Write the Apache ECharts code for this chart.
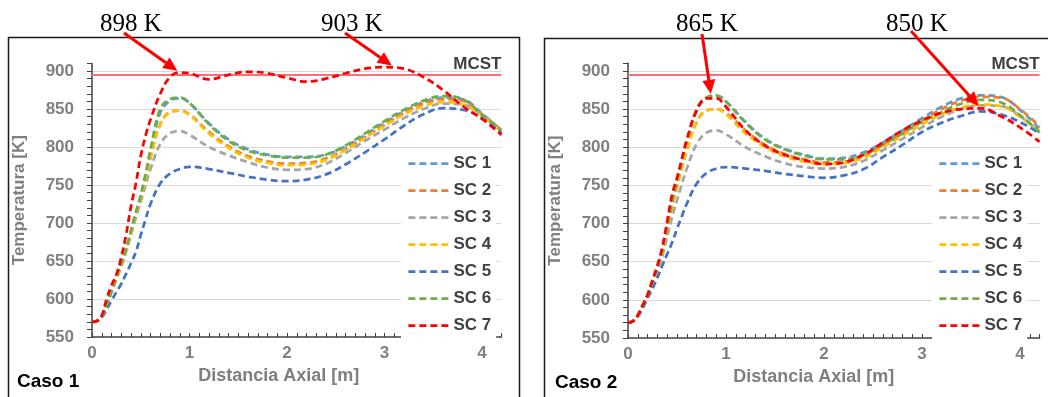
<!DOCTYPE html>
<html>
<head>
<meta charset="utf-8">
<script src="https://cdn.jsdelivr.net/npm/echarts@6/dist/echarts.min.js"></script>
<style>
html,body{margin:0;padding:0;background:#fff;}
#c{width:1048px;height:397px;}
</style>
</head>
<body>
<div id="c"></div>
<script>
// ---------- DATA ----------
const seriesNames = ['SC 1','SC 2','SC 3','SC 4','SC 5','SC 6','SC 7'];
const axialPos = [0,0.05,0.1,0.15,0.2,0.25,0.3,0.35,0.4,0.45,0.5,0.55,0.6,0.7,0.8,0.9,1.0,1.2,1.4,1.6,1.8,2.0,2.2,2.4,2.6,2.8,3.0,3.2,3.4,3.6,3.8,4.0,4.2];

// Caso 1
const c1_sc1 = [570,571,577,592,610,628,646,666,690,713,735,762,793,845,861,864,858,831,810,797,790,787,787,790,801,816,832,847,859,865,863,844,822];
const c1_sc2 = [570,571,577,592,610,627,645,664,688,711,733,759,786,830,846,848,843,820,801,788,781,778,779,785,797,813,829,845,857,863,861,843,822];
const c1_sc3 = [570,571,577,592,609,626,643,662,685,707,728,750,771,804,818,821,816,800,789,780,773,770,771,778,792,808,823,838,850,857,856,842,820];
const c1_sc4 = [570,571,577,592,610,627,645,664,688,711,733,759,786,830,846,848,842,818,799,786,779,776,777,783,796,812,828,843,854,859,856,841,820];
const c1_sc5 = [570,571,576,586,598,609,620,633,647,662,684,705,725,752,765,771,774,771,766,761,757,755,757,764,777,793,810,828,843,851,849,838,818];
const c1_sc6 = [570,571,577,592,610,628,646,666,690,714,737,765,797,850,863,865,858,830,808,795,789,786,786,790,802,818,834,849,861,867,863,843,822];
const c1_sc7 = [570,571,578,600,618,632,655,685,722,752,788,815,836,870,892,898,897,889,895,899,897,891,886,890,897,903,905,903,892,875,854,837,816];

// Caso 2
const c2_sc1 = [570,572,579,592,606,624,642,664,695,727,754,781,806,848,864,867,860,833,811,798,790,785,786,793,806,822,838,853,864,868,866,849,824];
const c2_sc2 = [570,572,579,592,606,623,641,662,692,722,748,773,796,833,848,850,845,822,803,791,784,780,781,789,803,819,835,850,861,866,865,850,827];
const c2_sc3 = [570,572,579,591,605,621,638,657,683,708,730,752,772,804,819,822,817,800,788,779,774,772,774,782,796,811,826,840,850,855,854,841,819];
const c2_sc4 = [570,572,579,592,606,623,641,662,692,722,748,773,796,833,848,850,843,818,800,788,781,778,779,786,800,815,830,843,852,856,854,840,821];
const c2_sc5 = [570,572,578,589,602,615,629,645,660,675,693,710,726,752,766,772,774,772,769,765,762,760,763,771,787,803,820,832,841,847,843,833,818];
const c2_sc6 = [570,572,579,592,606,624,642,664,695,728,755,782,808,850,865,868,860,832,810,797,789,784,784,790,803,818,833,846,857,862,859,842,820];
const c2_sc7 = [570,572,580,593,607,626,645,669,703,738,760,785,810,848,864,864,853,822,802,790,783,778,780,790,806,822,835,845,850,851,841,826,807];

const mcstValue = 895;
const mcstLabel = 'MCST';
const caseLabels = ['Caso 1','Caso 2'];
const yTicks = [550,600,650,700,750,800,850,900];
const xTicks = [0,1,2,3,4];

const annotLabels = ['898 K','903 K','865 K','850 K'];
const annotPoints = [[0.9,898],[3.1,905],[0.85,866],[3.6,851]];
const annotGrid = [0,0,1,1];

// ---------- STYLE / LAYOUT ----------
const colors = ['#5b9bd5','#ed7d31','#a5a5a5','#ffc000','#4472c4','#70ad47','#ff0000'];
const cases = [
  [c1_sc1,c1_sc2,c1_sc3,c1_sc4,c1_sc5,c1_sc6,c1_sc7],
  [c2_sc1,c2_sc2,c2_sc3,c2_sc4,c2_sc5,c2_sc6,c2_sc7]
];
const grids = [
  {left:92, top:63.4, width:409.5, height:273.6},
  {left:628, top:63.3, width:411.6, height:274.7}
];
const legendLeft = [401, 932];
const titlePad = [18, 20];
const annotText = [[100,24],[321,24],[676,24],[886,24]];
const annotTail = [[124,33],[345,33],[702,34],[911,31]];
const caseTextPos = [[17,382],[555,383]];
const frames = [[8.5,37.5,511,400],[544.5,38.5,520,400]];

const FONT = '"Liberation Sans", Arial, sans-serif';
const labelGray = '#7f7f7f';
const axisDark = '#404040';

const yMin = 550, yMax = 910, yStep = 10;
const splitColors = [];
for (let v = yMin; v <= yMax; v += yStep) {
  splitColors.push(yTicks.indexOf(v) > 0 ? '#d9d9d9' : 'rgba(0,0,0,0)');
}

const xAxes = [], yAxes = [], series = [], legends = [];
[0,1].forEach(c => {
  xAxes.push({
    type:'value', gridIndex:c, min:0, max:4.2, interval:0.1,
    name:'Distancia Axial [m]', nameLocation:'middle', nameGap:26,
    nameTextStyle:{fontFamily:FONT, fontWeight:'bold', fontSize:18, color:labelGray, padding:[0,titlePad[c]*2,0,0]},
    axisLine:{show:true, onZero:false, lineStyle:{color:axisDark, width:1.5}},
    axisTick:{show:true, inside:true, length:4, lineStyle:{color:axisDark, width:1}},
    axisLabel:{margin:8, fontFamily:FONT, fontWeight:'bold', fontSize:17, color:labelGray,
      formatter: v => { const r = Math.round(v); return (Math.abs(v-r) < 1e-6 && xTicks.indexOf(r) >= 0) ? String(r) : ''; }},
    splitLine:{show:false}
  });
  yAxes.push({
    type:'value', gridIndex:c, min:yMin, max:yMax, interval:yStep,
    name:'Temperatura [K]', nameLocation:'middle', nameGap:64, nameRotate:90,
    nameTextStyle:{fontFamily:FONT, fontWeight:'bold', fontSize:17, color:labelGray},
    axisLine:{show:true, lineStyle:{color:axisDark, width:1.5}},
    axisTick:{show:true, inside:false, length:5, lineStyle:{color:axisDark, width:1}},
    axisLabel:{margin:18, fontFamily:FONT, fontWeight:'bold', fontSize:17, color:labelGray,
      formatter: v => yTicks.indexOf(Math.round(v)) >= 0 && Math.abs(v-Math.round(v))<1e-6 ? String(Math.round(v)) : ''},
    splitLine:{show:true, lineStyle:{color:splitColors, width:1}}
  });
  cases[c].forEach((vals, i) => {
    const s = {
      type:'line', name:seriesNames[i], xAxisIndex:c, yAxisIndex:c,
      data: axialPos.map((x,k) => [x, vals[k]]),
      smooth:0.4, symbol:'none', showSymbol:false,
      lineStyle:{color:colors[i], width:2.75, type:[7,4]},
      itemStyle:{color:colors[i]},
      z: 3 + i
    };
    if (i === 0) {
      s.markLine = {
        silent:true, symbol:'none', animation:false,
        lineStyle:{color:'#ff6f78', width:2, type:'solid'},
        label:{show:true, position:'insideEndTop', formatter:mcstLabel, distance:[0,2],
          fontFamily:FONT, fontWeight:'bold', fontSize:17, color:axisDark},
        data:[{yAxis:mcstValue}]
      };
    }
    series.push(s);
  });
  legends.push({
    orient:'vertical', left:legendLeft[c], top:150, padding:[5,5,5,6],
    backgroundColor:'#ffffff', itemWidth:40, itemHeight:14, itemGap:10,
    selectedMode:false, data:seriesNames,
    itemStyle:{opacity:0},
    lineStyle:{width:2.75, type:[7,4], opacity:1},
    textStyle:{fontFamily:FONT, fontWeight:'bold', fontSize:17, color:axisDark, lineHeight:14}
  });
});

const chart = echarts.init(document.getElementById('c'), null, {renderer:'canvas'});
chart.setOption({
  animation:false,
  backgroundColor:'#ffffff',
  grid: grids,
  xAxis: xAxes,
  yAxis: yAxes,
  legend: legends,
  series: series
});

// ---------- annotations ----------
const graphics = [];
frames.forEach(f => graphics.push({type:'rect', z:0, shape:{x:f[0],y:f[1],width:f[2],height:f[3]},
  style:{fill:'none', stroke:'#1a1a1a', lineWidth:1.5}}));
caseLabels.forEach((t,i) => graphics.push({type:'text', z:10,
  style:{text:t, x:caseTextPos[i][0], y:caseTextPos[i][1], font:'bold 19px ' + FONT, fill:'#000', verticalAlign:'middle'}}));
annotLabels.forEach((t,i) => {
  graphics.push({type:'text', z:10, style:{text:t, x:annotText[i][0], y:annotText[i][1],
    font:'25px "Liberation Serif", "Times New Roman", serif', fill:'#000', verticalAlign:'middle'}});
  const p = chart.convertToPixel({gridIndex:annotGrid[i]}, annotPoints[i]);
  const tail = annotTail[i];
  let dx = p[0]-tail[0], dy = p[1]-tail[1];
  const len = Math.sqrt(dx*dx+dy*dy); dx/=len; dy/=len;
  const tip = [p[0]-dx*3, p[1]-dy*3];
  const head = 14, hw = 6.5;
  const base = [tip[0]-dx*head, tip[1]-dy*head];
  const nx = -dy, ny = dx;
  graphics.push({type:'line', z:20, shape:{x1:tail[0], y1:tail[1], x2:base[0], y2:base[1]},
    style:{stroke:'#ff0000', lineWidth:3}});
  graphics.push({type:'polygon', z:20, shape:{points:[tip,[base[0]+nx*hw, base[1]+ny*hw],[base[0]-nx*hw, base[1]-ny*hw]]},
    style:{fill:'#ff0000'}});
});
chart.setOption({graphic: graphics});
</script>
</body>
</html>
